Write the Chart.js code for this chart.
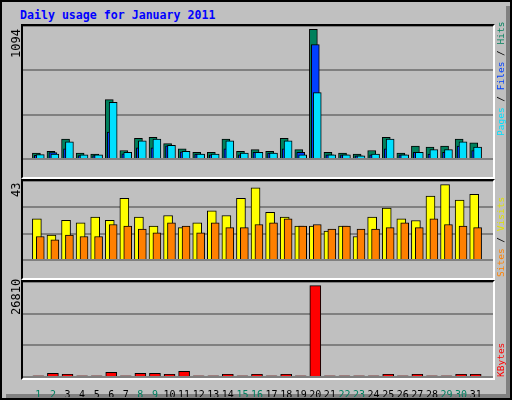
<!DOCTYPE html>
<html><head><meta charset="utf-8">
<script src="https://cdn.jsdelivr.net/npm/chart.js@4"></script>
<style>
body{margin:0;background:#fff;}
#wrap{position:relative;width:512px;height:400px;background:#c0c0c0;box-sizing:border-box;border:2px solid #000;overflow:hidden;font-family:"DejaVu Sans Mono",monospace;}
#shR{position:absolute;right:0;top:4px;width:4px;height:396px;background:#808080;}
#shB{position:absolute;left:4px;bottom:0;height:4px;width:508px;background:#808080;}
.panel{position:absolute;left:19px;width:472px;}
.panel canvas{position:absolute;left:0;top:0;}
.frame{position:absolute;left:19px;width:470px;border-top:2px solid #000;border-left:2px solid #000;border-right:2px solid #fff;border-bottom:2px solid #fff;pointer-events:none;}
.rot{position:absolute;transform-origin:0 0;transform:rotate(-90deg);white-space:nowrap;font-size:12px;}
.rr{font-size:9.5px;}
#title{position:absolute;left:18px;top:6px;color:#0000ff;font-weight:bold;font-size:11.6px;}
</style></head><body>
<div id="wrap">
<div id="shR"></div><div id="shB"></div>
<div id="title">Daily usage for January 2011</div>
<div class="panel" style="top:24px;height:153px"><canvas id="c1"></canvas></div>
<div class="panel" style="top:179px;height:99px"><canvas id="c2"></canvas></div>
<div class="panel" style="top:280px;height:117px"><canvas id="c3"></canvas></div>
<div class="frame" style="top:22px;height:151px"></div>
<div class="frame" style="top:177px;height:97px"></div>
<div class="frame" style="top:278px;height:96px"></div>
<div class="rot" style="left:7px;top:56px">1094</div>
<div class="rot" style="left:7px;top:195px">43</div>
<div class="rot" style="left:7px;top:313px">26810</div>
<div class="rot rr" style="left:493px;top:134px"><span style="color:#00e0ff">Pages</span><span style="color:#000"> / </span><span style="color:#0040ff">Files</span><span style="color:#000"> / </span><span style="color:#00805c">Hits</span></div>
<div class="rot rr" style="left:493px;top:275px"><span style="color:#ff8000">Sites</span><span style="color:#000"> / </span><span style="color:#e0e000">Visits</span></div>
<div class="rot rr" style="left:493px;top:375px"><span style="color:#ff0000">KBytes</span></div>
</div>
<script>
const days=[1,2,3,4,5,6,7,8,9,10,11,12,13,14,15,16,17,18,19,20,21,22,23,24,25,26,27,28,29,30,31];
const weekend=[1,2,8,9,15,16,22,23,29,30];
const hits=[48,63,163,48,41,488,70,171,178,127,84,55,55,163,63,77,63,171,77,1066,55,48,41,70,178,48,106,99,106,163,134];
const files=[30,53,84,29,29,221,43,91,91,108,60,41,34,84,34,55,48,84,55,942,34,34,26,34,84,34,55,41,55,106,70];
const pages=[36,41,142,34,34,466,55,149,163,113,63,41,41,149,48,55,48,149,34,546,34,34,26,41,163,34,55,77,77,142,99];
const visits=[22.4,13.6,21.6,20.2,23.3,21.6,33.5,23.3,18.4,24.2,17.6,20.2,26.8,24.2,33.5,39.3,26,23.3,18.4,18.4,15.7,18.4,12.8,23.3,28.2,22.4,21.5,34.8,41,32.6,35.7];
const sites=[12.8,11,13.6,12.8,12.8,19.3,18.4,16.8,14.8,20.2,18.4,14.8,20.2,17.6,17.6,19.3,20.2,22.4,18.4,19.3,16.8,18.4,16.8,16.8,17.6,20.2,17.6,22.4,19.3,18.4,17.6];
const kbytes=[300,1030,750,300,300,1320,300,1030,1030,750,1600,300,300,750,300,750,300,750,300,25770,300,300,300,300,750,300,750,300,300,750,750];
const maxTop=1094, maxMid=43, maxBot=26810;

function pts(arr,off){return arr.map((v,i)=>({x:days[i]+off,y:v}));}
function ds(arr,off,color,w,ord){return {data:pts(arr,off),order:ord,backgroundColor:color,borderColor:'#000',borderWidth:1,barThickness:w,grouped:false,borderSkipped:'bottom'};}
function opts(max,showX){
  return {responsive:false,animation:false,events:[],
    layout:{padding:0},
    plugins:{legend:{display:false},tooltip:{enabled:false}},
    scales:{
      x:{type:'linear',min:0.333,max:31.667,display:showX,
        grid:{display:false},border:{display:false},
        afterBuildTicks:s=>{s.ticks=days.map(d=>({value:d}));},
        afterFit:s=>{s.height=20;},
        ticks:{autoSkip:false,maxRotation:0,padding:4,font:{family:'DejaVu Sans Mono',size:10},
          color:c=>weekend.includes(c.tick&&c.tick.value)?'#008060':'#000'}},
      y:{min:0,max:max,afterBuildTicks:s=>{s.ticks=[0,max/3,2*max/3,max].map(v=>({value:v}));},
        afterFit:s=>{s.width=0;},ticks:{display:false},border:{display:false},
        grid:{color:'#808080',lineWidth:2,drawTicks:false}}
    }};
}
function mk(id,w,h,datasets,max,showX){
  const c=document.getElementById(id);c.width=w;c.height=h;
  new Chart(c,{type:'bar',data:{datasets},options:opts(max,showX)});
}
mk('c1',472,153,[ds(hits,-0.133,'#00805c',8,3),ds(files,0,'#0040ff',8,2),ds(pages,0.133,'#00e0ff',8,1)],maxTop,false);
mk('c2',472,99,[ds(visits,-0.1,'#ffff00',9,2),ds(sites,0.133,'#ff8000',8,1)],maxMid,false);
mk('c3',472,115,[ds(kbytes,0,'#ff0000',11,1)],maxBot,true);
</script>
</body></html>
